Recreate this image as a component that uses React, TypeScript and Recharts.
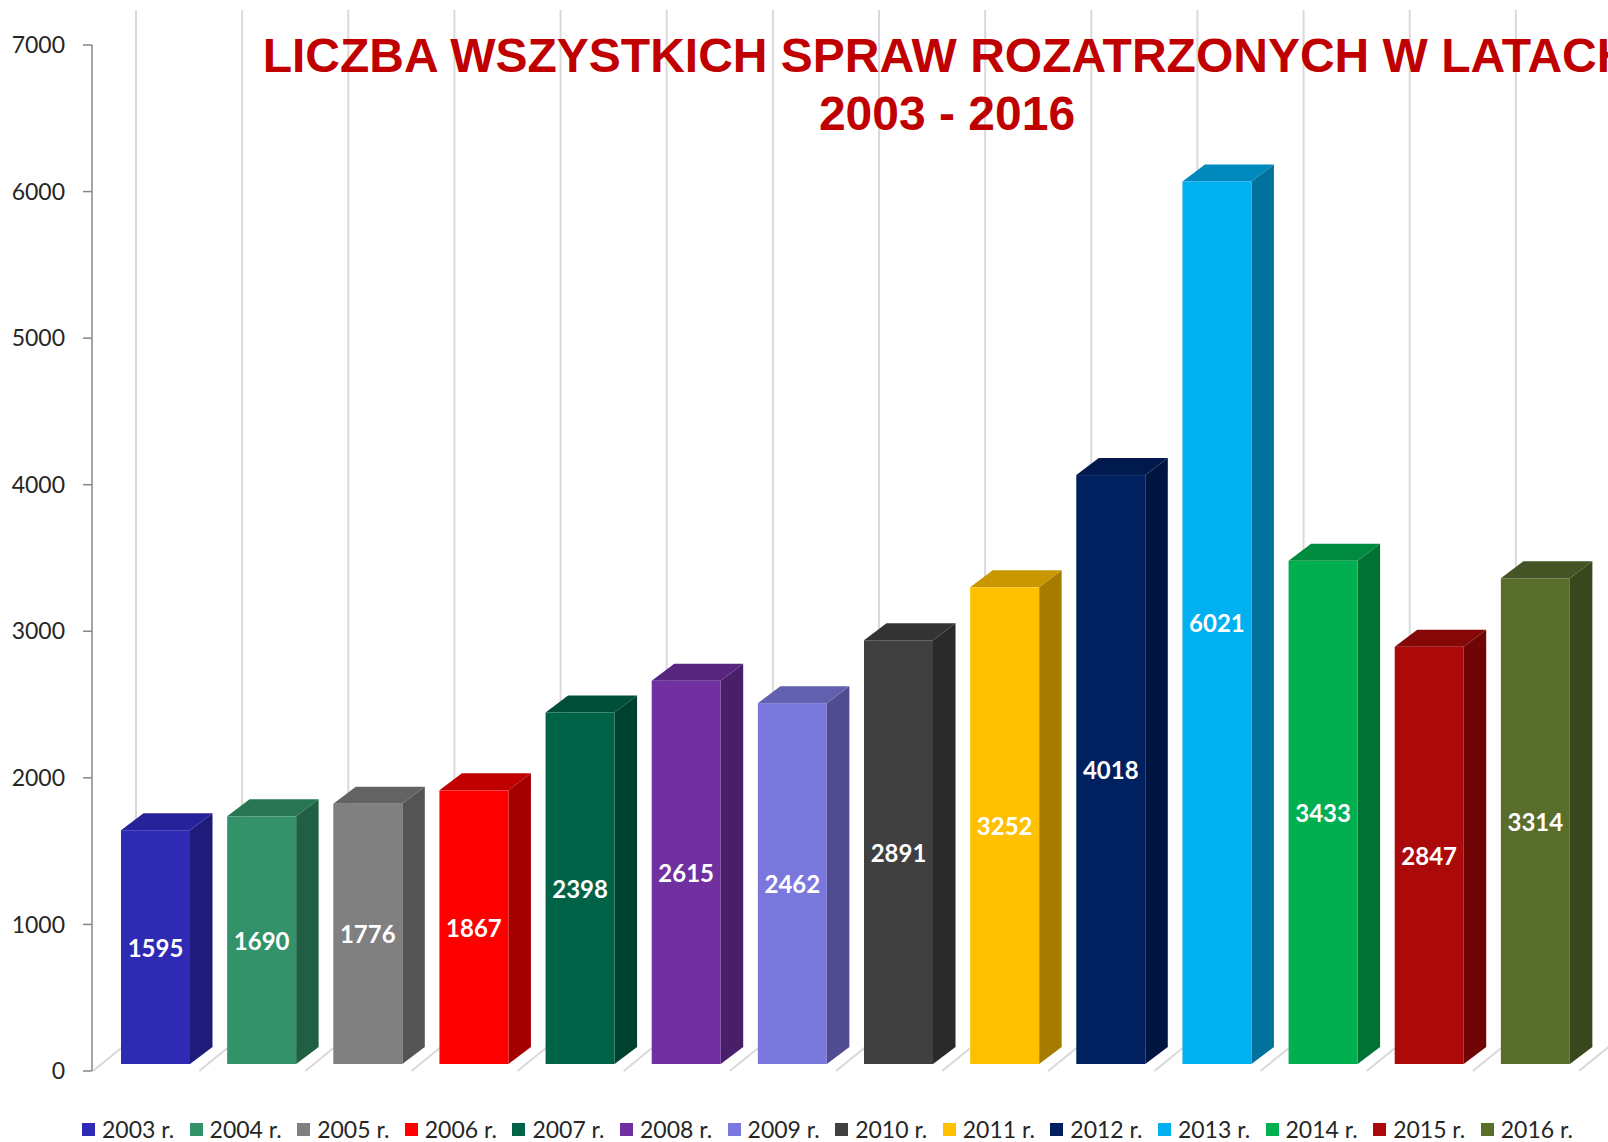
import { BarChart, Bar, XAxis, YAxis, CartesianGrid, LabelList } from 'recharts';

const years = ['2003 r.', '2004 r.', '2005 r.', '2006 r.', '2007 r.', '2008 r.', '2009 r.', '2010 r.', '2011 r.', '2012 r.', '2013 r.', '2014 r.', '2015 r.', '2016 r.'];
const values = [1595, 1690, 1776, 1867, 2398, 2615, 2462, 2891, 3252, 4018, 6021, 3433, 2847, 3314];
const yTicks = [0, 1000, 2000, 3000, 4000, 5000, 6000, 7000];

const frontColors = ['#2E2AB4', '#33926A', '#808080', '#FF0000', '#006347', '#7030A0', '#7B78DD', '#404040', '#FFC000', '#002060', '#00B0F0', '#00B050', '#AC0A0A', '#5A6E2C'];
const sideColors = ['#1E1B7A', '#205F44', '#545454', '#A50000', '#00402E', '#481F68', '#4F4D8F', '#2A2A2A', '#A67C00', '#00153F', '#00729C', '#007233', '#700505', '#3A471D'];
const topColors = ['#25229A', '#277552', '#636363', '#C00000', '#004F38', '#58267F', '#6360B0', '#333333', '#C99700', '#001A4D', '#0089BC', '#008A3F', '#860707', '#455424'];

const data = years.map((year, i) => ({ year, value: values[i] }));

// 3d look: front face pushed a bit into the floor, depth goes up-right
const SHIFT_X = 10;
const SHIFT_Y = 7;
const DX = 22.5;
const DY = 17;
// floor / back wall
const FLOOR_DX = 44;
const FLOOR_DY = 35;
const WALL_TOP = 10;

const W = 1608;
const H = 1142;

function Bar3D(props: any) {
  const { x, y, width, height, payload } = props;
  const i = years.indexOf(payload.year);
  const fx = x + SHIFT_X;
  const fy = y - SHIFT_Y;
  const w = width;
  const h = height;
  return (
    <g>
      <polygon
        points={`${fx + w},${fy} ${fx + w + DX},${fy - DY} ${fx + w + DX},${fy + h - DY} ${fx + w},${fy + h}`}
        fill={sideColors[i]}
      />
      <polygon
        points={`${fx},${fy} ${fx + DX},${fy - DY} ${fx + w + DX},${fy - DY} ${fx + w},${fy}`}
        fill={topColors[i]}
      />
      <rect x={fx} y={fy} width={w} height={h} fill={frontColors[i]} />
    </g>
  );
}

function gridLine(p: any) {
  const x = p.x1;
  const bottom = Math.max(p.y1, p.y2);
  return (
    <path
      key={p.key}
      d={`M${x + 1},${bottom} L${x + FLOOR_DX},${bottom - FLOOR_DY} L${x + FLOOR_DX},${WALL_TOP}`}
      stroke="#d9d9d9"
      strokeWidth={2}
      fill="none"
    />
  );
}

function renderLabel(p: any) {
  const { x, y, width, height, value } = p;
  return (
    <text
      x={x + width / 2 + SHIFT_X}
      y={y + height / 2 - SHIFT_Y}
      textAnchor="middle"
      dominantBaseline="central"
      fill="#ffffff"
      fontFamily="Lato"
      fontWeight="bold"
      fontSize={24}
    >
      {value}
    </text>
  );
}

export default function App() {
  return (
    <div style={{ position: 'absolute', left: 0, top: 0, width: W, height: H, overflow: 'hidden', background: '#fff', fontFamily: 'Lato' }}>
      <BarChart width={W} height={H} data={data} margin={{ top: 45, right: 30, left: 0, bottom: 71 }}>
        <CartesianGrid
          horizontal={false}
          vertical={gridLine}
          verticalCoordinatesGenerator={({ offset }: any) =>
            Array.from({ length: years.length + 1 }, (_, i) => offset.left + (i * offset.width) / years.length)
          }
        />
        <XAxis dataKey="year" hide />
        <YAxis
          width={92}
          domain={[0, 7000]}
          ticks={yTicks}
          interval={0}
          axisLine={{ stroke: '#868686', strokeWidth: 1.5 }}
          tickLine={{ stroke: '#868686', strokeWidth: 1.5 }}
          tickSize={9}
          tickMargin={18}
          tick={{ fontSize: 23, fill: '#262626', fontFamily: 'Lato' }}
        />
        <Bar dataKey="value" barSize={69} shape={Bar3D} isAnimationActive={false}>
          <LabelList dataKey="value" content={renderLabel} />
        </Bar>
      </BarChart>

      <div
        style={{
          position: 'absolute',
          left: 947,
          top: 27,
          transform: 'translateX(-50%)',
          whiteSpace: 'nowrap',
          textAlign: 'center',
          fontFamily: '"Liberation Sans", Arial, sans-serif',
          fontWeight: 'bold',
          fontSize: 48,
          lineHeight: '58px',
          color: '#C00000',
          pointerEvents: 'none',
        }}
      >
        <div>LICZBA WSZYSTKICH SPRAW ROZATRZONYCH W LATACH</div>
        <div>2003 - 2016</div>
      </div>

      <div style={{ position: 'absolute', left: 82, top: 1115, height: 28, display: 'flex', alignItems: 'center' }}>
        {years.map((y, i) => (
          <div key={y} style={{ width: 107.6, display: 'flex', alignItems: 'center', flexShrink: 0 }}>
            <span style={{ width: 13, height: 13, background: frontColors[i], marginRight: 7, display: 'inline-block' }} />
            <span style={{ fontSize: 23, lineHeight: '28px', color: '#262626', whiteSpace: 'nowrap' }}>{y}</span>
          </div>
        ))}
      </div>
    </div>
  );
}
